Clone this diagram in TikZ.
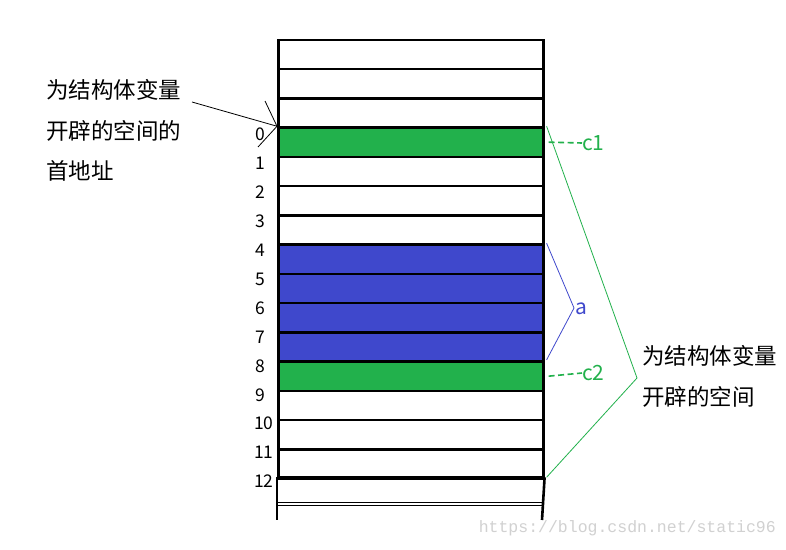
\documentclass[tikz,border=0pt]{standalone}
\usepackage{fontspec}
\newfontfamily\cjk{Noto Sans CJK SC}
\newfontfamily\monof{Liberation Mono}
\definecolor{pgreen}{RGB}{34,177,76}
\definecolor{pblue}{RGB}{63,72,204}
\tikzset{
  cell/.style={draw=black, line width=2.6pt, minimum width=265pt, minimum height=29.25pt, inner sep=0pt, anchor=north west},
  num/.style={font=\cjk\fontsize{17.5}{17.5}\selectfont, anchor=west, inner sep=0pt},
  cjklabel/.style={font=\cjk\fontsize{22.5}{22.5}\selectfont, anchor=west, inner sep=0pt},
  tag/.style={font=\cjk\fontsize{21}{21}\selectfont, anchor=west, inner sep=0pt},
}
\begin{document}
\begin{tikzpicture}[x=1pt,y=-1pt]
\useasboundingbox (0,0) rectangle (786,549);
\fill[white] (0,0) rectangle (786,549);
% top three cells
\node[cell] (ra) at (277,38.5) {};
\node[cell] (rb) at (277,67.75) {};
\node[cell] (rc) at (277,97) {};
% numbered cells
\node[cell, fill=pgreen] (r0) at (277,126.25) {};
\node[cell] (r1) at (277,155.5) {};
\node[cell] (r2) at (277,184.75) {};
\node[cell] (r3) at (277,214) {};
\node[cell, fill=pblue] (r4) at (277,243.25) {};
\node[cell, fill=pblue] (r5) at (277,272.5) {};
\node[cell, fill=pblue] (r6) at (277,301.75) {};
\node[cell, fill=pblue] (r7) at (277,331) {};
\node[cell, fill=pgreen] (r8) at (277,360.25) {};
\node[cell] (r9) at (277,389.5) {};
\node[cell] (r10) at (277,418.75) {};
\node[cell] (r11) at (277,448) {};
\node[cell, draw=none, minimum height=25pt] (r12) at (277,477.25) {};
\draw[line width=2.6pt] (r12.north west) -- (r12.north east);
\draw[line width=1pt] (277,502.5) -- (542,502.5);
\draw[line width=1pt] (277,505.5) -- (542,505.5);
\draw[line width=2.6pt] (r12.north west) -- (277,520);
\draw[line width=2.6pt] (r12.north east) -- (542,520);
% row numbers
\node[num] (n0) at (255,134) {0};
\node[num] (n1) at (255,163) {1};
\node[num] (n2) at (255,192) {2};
\node[num] (n3) at (255,221) {3};
\node[num] (n4) at (255,250.5) {4};
\node[num] (n5) at (255,279.5) {5};
\node[num] (n6) at (255,308.5) {6};
\node[num] (n7) at (255,337.5) {7};
\node[num] (n8) at (255,366.5) {8};
\node[num] (n9) at (255,395.5) {9};
\node[num] (n10) at (254,423.5) {10};
\node[num] (n11) at (254,452.5) {11};
\node[num] (n12) at (254,481.5) {12};
% left labels
\node[cjklabel] (lt1) at (46,90) {为结构体变量};
\node[cjklabel] (lt2) at (46,130.5) {开辟的空间的};
\node[cjklabel] (lt3) at (46,171) {首地址};
% right labels
\node[cjklabel] (rt1) at (642,356) {为结构体变量};
\node[cjklabel] (rt2) at (642,397) {开辟的空间};
% tags
\node[tag, text=pgreen] (c1) at (582,143) {c1};
\node[tag, text=pgreen] (c2) at (582,373) {c2};
\node[tag, text=pblue] (ta) at (575,309) {a};
% pointer to first address
\coordinate (ps) at (192,102);
\coordinate (pa) at (265,101);
\coordinate (pb) at (258,147);
\draw[line width=0.8pt] (ps) -- (r0.north west);
\draw[line width=0.8pt] (pa) -- (r0.north west) -- (pb);
% green bracket
\coordinate (gap) at (637,378);
\draw[pgreen, line width=0.8pt] ([xshift=2pt]r0.north east) -- (gap) -- ([xshift=2pt]r12.north east);
% blue bracket
\coordinate (bap) at (574,308);
\draw[pblue, line width=0.8pt] ([xshift=2pt]r4.north east) -- (bap) -- ([xshift=2pt,yshift=3pt]r7.south east);
% dashed leaders
\draw[pgreen, line width=1.6pt, dash pattern=on 6pt off 3.5pt] ([xshift=4pt]r0.east) -- (c1.west);
\draw[pgreen, line width=1.6pt, dash pattern=on 6pt off 3.5pt] ([xshift=4pt]r8.east) -- (c2.west);
% watermark
\node[font=\monof\fontsize{16.5}{16.5}\selectfont, text=black!18, anchor=east, inner sep=0pt] (wm) at (776,528) {https://blog.csdn.net/static96};
\end{tikzpicture}
\end{document}
